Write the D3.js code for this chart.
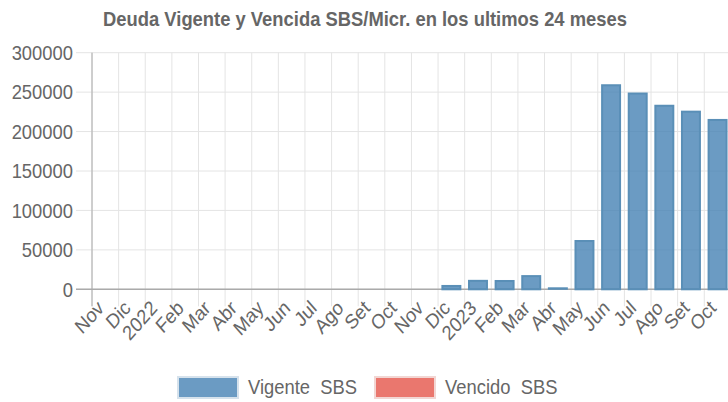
<!DOCTYPE html>
<html>
<head>
<meta charset="utf-8">
<script src="https://cdn.jsdelivr.net/npm/d3@7"></script>
<style>
  body { margin: 0; background: #fff; }
  text { font-family: "Liberation Sans", Arial, sans-serif; fill: #666; }
</style>
</head>
<body>
<div id="chart"></div>
<script>
let months = ["Nov", "Dic", "2022", "Feb", "Mar", "Abr", "May", "Jun", "Jul", "Ago", "Set", "Oct",
              "Nov", "Dic", "2023", "Feb", "Mar", "Abr", "May", "Jun", "Jul", "Ago", "Set", "Oct"];
let vigente = [0, 0, 0, 0, 0, 0, 0, 0, 0, 0, 0, 0,
               0, 5500, 12000, 11800, 18000, 1000, 62500, 260000, 249500, 234000, 226500, 216000];
let vencido = [0, 0, 0, 0, 0, 0, 0, 0, 0, 0, 0, 0,
               0, 0, 0, 0, 0, 0, 0, 0, 0, 0, 0, 0];
let yTicks = [0, 50000, 100000, 150000, 200000, 250000, 300000];
let seriesNames = ["Vigente  SBS", "Vencido  SBS"];
let seriesFill = ["rgba(70,130,180,0.8)", "rgba(230,95,85,0.85)"];
let seriesStroke = ["#5a8fb7", "#dc5f55"];

let width = 728, height = 402;
let plotLeft = 92, plotTop = 52.7, plotBottom = 289.3, step = 26.62;
// the picture is a bit squeezed sideways, so texts get a horizontal scale
let sx = 0.92;

function plot() {
    let svg = d3.select("#chart").append("svg").attr("width", width).attr("height", height);

    let x = d3.scaleBand().domain(d3.range(months.length))
        .range([plotLeft, plotLeft + step * months.length]);
    let y = d3.scaleLinear().domain([0, 300000]).range([plotBottom, plotTop]);

    //Title
    svg.append("text").attr("transform", `translate(365, 26) scale(${sx}, 1)`).attr("text-anchor", "middle")
        .style("font-weight", "bold").style("font-size", "20px").text("Deuda Vigente y Vencida SBS/Micr. en los ultimos 24 meses");

    //Horizontal grid + y ticks
    let yGroup = svg.append("g");
    yTicks.forEach(t => {
        yGroup.append("line").attr("x1", plotLeft - 16).attr("x2", width + 10)
            .attr("y1", y(t)).attr("y2", y(t)).attr("stroke", "#e4e4e4").attr("stroke-width", 1);
        yGroup.append("text").attr("transform", `translate(${plotLeft - 19}, ${y(t)}) scale(${sx}, 1)`).attr("dy", "0.36em")
            .attr("text-anchor", "end").style("font-size", "20px").text(t);
    });

    //Vertical grid + x labels
    let xGroup = svg.append("g");
    months.forEach((m, i) => {
        xGroup.append("line").attr("x1", x(i)).attr("x2", x(i))
            .attr("y1", plotTop).attr("y2", plotBottom + 17)
            .attr("stroke", "#e4e4e4").attr("stroke-width", 1);
        xGroup.append("text")
            .attr("transform", `translate(${x(i) + 13}, ${plotBottom + 20}) scale(0.88, 1) rotate(-45)`)
            .attr("text-anchor", "end").style("font-size", "20.5px").text(m);
    });

    //Axis lines
    svg.append("line").attr("x1", plotLeft).attr("x2", plotLeft).attr("y1", plotTop).attr("y2", plotBottom + 17)
        .attr("stroke", "#aaa").attr("stroke-width", 1);
    svg.append("line").attr("x1", plotLeft - 16).attr("x2", width + 10).attr("y1", y(0)).attr("y2", y(0))
        .attr("stroke", "#aaa").attr("stroke-width", 1.5);

    //Bars
    let inset = x.bandwidth() * 0.125, barW = x.bandwidth() * 0.75;
    [vigente, vencido].forEach((series, s) => {
        svg.append("g").selectAll("rect").data(series.map((v, i) => ({i: i, v: v})).filter(d => d.v > 0))
            .enter().append("rect")
            .attr("x", d => x(d.i) + inset + 1)
            .attr("y", d => Math.min(y(d.v) + 1, y(0) - 1))
            .attr("width", barW - 2)
            .attr("height", d => Math.max(0.5, y(0) - y(d.v) - 1))
            .attr("fill", seriesFill[s])
            .attr("stroke", seriesStroke[s]).attr("stroke-width", 2);
    });

    //Legend
    let legendX = [177, 374];
    seriesNames.forEach((n, s) => {
        let g = svg.append("g").attr("transform", `translate(${legendX[s]}, 376)`);
        g.append("rect").attr("x", 1).attr("y", 1).attr("width", 60).attr("height", 21)
            .attr("fill", seriesFill[s]).attr("stroke", s === 0 ? "#d6e2ec" : "#f2d6d3").attr("stroke-width", 2);
        g.append("text").attr("transform", `translate(71, 11) scale(${sx}, 1)`).attr("dy", "0.36em")
            .attr("xml:space", "preserve").style("white-space", "pre")
            .style("font-size", "20px").text(n);
    });
}

plot();
</script>
</body>
</html>
